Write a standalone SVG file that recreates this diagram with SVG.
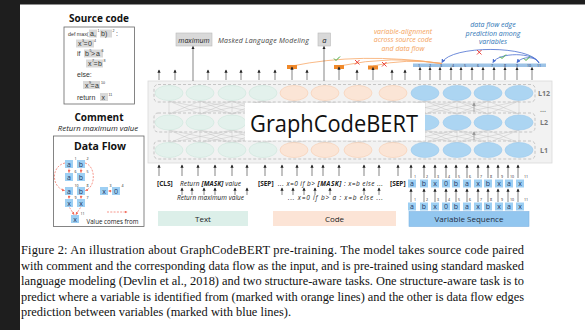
<svg xmlns="http://www.w3.org/2000/svg" width="585" height="330" viewBox="0 0 585 330">
<defs>
<style>
.s{font-family:"Open Sans","Noto Sans",sans-serif;}
.it{font-style:italic;}
.b{font-weight:bold;}
.cap{font-family:"Liberation Serif","Times New Roman",serif;font-size:12.4px;fill:#111;}
.hl{fill:#d9d9d9;}
.vb{fill:#9dcff3;}
.vt{font-family:"Open Sans",sans-serif;font-size:7px;fill:#1f3864;text-anchor:middle;}
.sup{font-family:"Open Sans",sans-serif;font-size:3.6px;fill:#222;}
.code{font-family:"Liberation Sans",Arial,sans-serif;font-size:7px;fill:#333;}
.cs{font-size:3.6px;}
.ar path{stroke:#333;stroke-width:0.6;fill:none;marker-end:url(#ah);}
.ga{stroke:#999;stroke-width:0.8;fill:none;marker-end:url(#gh);}
.rd{stroke:#f26b5b;stroke-width:0.7;fill:none;stroke-dasharray:2 1.3;marker-end:url(#rh);}
.row{fill:none;stroke:#b3b3b3;stroke-width:0.7;stroke-dasharray:3 2;}
.eg{fill:#e3f1ec;stroke:#cce5dc;stroke-width:0.6;}
.eo{fill:#fbe5d6;stroke:#f6cdb0;stroke-width:0.6;}
.eb{fill:#acd5f2;stroke:#9ccaec;stroke-width:0.6;}
.om{fill:#f0892a;}
</style>
<marker id="ah" viewBox="0 0 6 6" refX="5" refY="3" markerWidth="3.2" markerHeight="3.2" markerUnits="userSpaceOnUse" orient="auto"><path d="M0,0 L6,3 L0,6 z" fill="#222"/></marker>
<marker id="gh" viewBox="0 0 6 6" refX="5" refY="3" markerWidth="4" markerHeight="4" markerUnits="userSpaceOnUse" orient="auto"><path d="M0,0 L6,3 L0,6 z" fill="#999"/></marker>
<marker id="rh" viewBox="0 0 6 6" refX="5" refY="3" markerWidth="3" markerHeight="3" markerUnits="userSpaceOnUse" orient="auto"><path d="M0,0 L6,3 L0,6 z" fill="#f26b5b"/></marker>
<marker id="bh" viewBox="0 0 6 6" refX="5" refY="3" markerWidth="4" markerHeight="4" markerUnits="userSpaceOnUse" orient="auto"><path d="M0,0 L6,3 L0,6 z" fill="#4a6fd0"/></marker>
</defs>
<rect x="0" y="0" width="585" height="330" fill="#fff"/>
<rect x="0" y="0" width="20" height="330" fill="#1e1e1e"/>
<rect x="0" y="0" width="585" height="4.5" fill="#1e1e1e"/>

<!-- Source code -->
<g id="source-code">
<text x="99" y="22" class="s b" font-size="10" text-anchor="middle" fill="#111">Source code</text>
<rect x="64" y="27" width="70.5" height="77" fill="#fff" stroke="#666" stroke-width="0.8"/>
<rect class="hl" x="89" y="29.5" width="8" height="8"/>
<rect class="hl" x="100" y="29.5" width="12" height="8"/>
<rect class="hl" x="76" y="39.5" width="18" height="8"/>
<rect class="hl" x="84" y="49.5" width="19" height="8"/>
<rect class="hl" x="86" y="59.5" width="17" height="8"/>
<rect class="hl" x="83" y="81" width="17" height="8"/>
<rect class="hl" x="100" y="93" width="8" height="8"/>
<text class="code" y="36"><tspan x="68" font-size="5.3">def max(</tspan><tspan x="90">a,</tspan><tspan class="cs" x="97.5" dy="-4">1</tspan><tspan x="101" dy="4">b)</tspan><tspan class="cs" x="112.5" dy="-4">2</tspan><tspan x="116" dy="4">:</tspan></text>
<text class="code" y="46"><tspan x="78">x</tspan><tspan class="cs" x="82" dy="-4">3</tspan><tspan x="83.5" dy="4">=</tspan><tspan x="88">0</tspan><tspan class="cs" x="94" dy="-4">4</tspan></text>
<text class="code" y="56"><tspan x="77">if</tspan><tspan x="85">b</tspan><tspan class="cs" x="89.5" dy="-4">5</tspan><tspan x="91" dy="4">&gt;</tspan><tspan x="96">a</tspan><tspan class="cs" x="101.5" dy="-4">6</tspan></text>
<text class="code" y="66"><tspan x="88">x</tspan><tspan class="cs" x="92" dy="-4">7</tspan><tspan x="93.5" dy="4">=</tspan><tspan x="98">b</tspan><tspan class="cs" x="103.5" dy="-4">8</tspan></text>
<text class="code" x="77" y="77">else:</text>
<text class="code" y="87.5"><tspan x="85">x</tspan><tspan class="cs" x="89" dy="-4">9</tspan><tspan x="90.5" dy="4">=</tspan><tspan x="95">a</tspan><tspan class="cs" x="101" dy="-4">10</tspan></text>
<text class="code" y="99.5"><tspan x="77">return</tspan><tspan x="101.5">x</tspan><tspan class="cs" x="108.5" dy="-4">11</tspan></text>
</g>

<!-- Comment -->
<g id="comment">
<text x="99" y="120.5" class="s b" font-size="10" text-anchor="middle" fill="#111">Comment</text>
<text x="98" y="131" class="s it" font-size="7.8" text-anchor="middle" fill="#222">Return maximum value</text>
</g>

<!-- Data Flow -->
<g id="data-flow">
<rect x="53.5" y="136" width="90.5" height="90.5" fill="#fff" stroke="#666" stroke-width="0.8"/>
<text x="100" y="150" class="s b" font-size="10.5" text-anchor="middle" fill="#111">Data Flow</text>
<g>
<rect class="vb" x="65" y="160" width="8" height="8"/><text class="vt" x="69" y="166.5">a</text><text class="sup" x="74.5" y="160">1</text>
<rect class="vb" x="77" y="160" width="8" height="8"/><text class="vt" x="81" y="166.5">b</text><text class="sup" x="86.5" y="160">2</text>
<rect class="vb" x="65" y="173" width="8" height="8"/><text class="vt" x="69" y="179.5">a</text><text class="sup" x="74.5" y="173">6</text>
<rect class="vb" x="77" y="173" width="8" height="8"/><text class="vt" x="81" y="179.5">b</text><text class="sup" x="86.5" y="173">5</text>
<rect class="vb" x="65" y="187" width="8" height="8"/><text class="vt" x="69" y="193.5">a</text><text class="sup" x="74.5" y="187">10</text>
<rect class="vb" x="77" y="187" width="8" height="8"/><text class="vt" x="81" y="193.5">b</text><text class="sup" x="86.5" y="187">8</text>
<rect class="vb" x="65" y="199" width="8" height="8"/><text class="vt" x="69" y="205.5">x</text><text class="sup" x="74.5" y="199">9</text>
<rect class="vb" x="77" y="199" width="8" height="8"/><text class="vt" x="81" y="205.5">x</text><text class="sup" x="86.5" y="199">7</text>
<rect class="vb" x="71" y="215" width="8" height="8"/><text class="vt" x="75" y="221.5">x</text><text class="sup" x="80.5" y="215">11</text>
<rect class="vb" x="100" y="187" width="8" height="8"/><text class="vt" x="104" y="193.5">x</text><text class="sup" x="109.5" y="187">3</text>
<rect class="vb" x="112" y="187" width="8" height="8"/><text class="vt" x="116" y="193.5">0</text><text class="sup" x="121.5" y="187">4</text>
</g>
<g>
<path class="rd" d="M69 168.5 L69 172.5"/>
<path class="rd" d="M81 168.5 L81 172.5"/>
<path class="rd" d="M65 163 C51 166 51 187 64.5 190.5"/>
<path class="rd" d="M85 163 C96 166 96 187 85.5 190.5"/>
<path class="rd" d="M69 195.5 L69 198.5"/>
<path class="rd" d="M81 195.5 L81 198.5"/>
<path class="rd" d="M69.5 207.5 L74 214.5"/>
<path class="rd" d="M80.5 207.5 L76 214.5"/>
<path class="rd" d="M111.5 191 L108.5 191"/>
<path class="rd" d="M107 212 L127 212"/>
</g>
<text x="112.5" y="223.5" class="s" font-size="6.2" text-anchor="middle" fill="#222">Value comes from</text>
</g>

<!-- Model frame -->
<g id="graphcodebert">
<rect x="148" y="81" width="404" height="82" fill="#f2f2f2" stroke="#d9d9d9" stroke-width="0.8"/>
<rect class="row" x="154" y="84.5" width="381" height="17.5" rx="4"/>
<rect class="row" x="154" y="113" width="381" height="19" rx="4"/>
<rect class="row" x="154" y="141" width="381" height="18" rx="4"/>
<path stroke="#c4c4c4" stroke-width="0.5" fill="none" d="
M169 114 L169 101 M200 114 L200 101 M232 114 L232 101 M263 114 L263 101 M294 114 L294 101 M325 114 L325 101 M358 114 L358 101 M393 114 L393 101 M425 114 L425 101 M457 114 L457 101 M488 114 L488 101 M519 114 L519 101
M169 114 L200 101 M200 114 L169 101 M200 114 L232 101 M232 114 L200 101 M232 114 L263 101 M263 114 L232 101 M263 114 L294 101 M294 114 L263 101 M294 114 L325 101 M325 114 L294 101 M325 114 L358 101 M358 114 L325 101 M358 114 L393 101 M393 114 L358 101 M393 114 L425 101 M425 114 L393 101 M425 114 L457 101 M457 114 L425 101 M457 114 L488 101 M488 114 L457 101 M488 114 L519 101 M519 114 L488 101
M169 114 L232 101 M232 114 L169 101 M200 114 L263 101 M263 114 L200 101 M232 114 L294 101 M294 114 L232 101 M263 114 L325 101 M325 114 L263 101 M294 114 L358 101 M358 114 L294 101 M325 114 L393 101 M393 114 L325 101 M358 114 L425 101 M425 114 L358 101 M393 114 L457 101 M457 114 L393 101 M425 114 L488 101 M488 114 L425 101 M457 114 L519 101 M519 114 L457 101
M169 143 L169 130 M200 143 L200 130 M232 143 L232 130 M263 143 L263 130 M294 143 L294 130 M325 143 L325 130 M358 143 L358 130 M393 143 L393 130 M425 143 L425 130 M457 143 L457 130 M488 143 L488 130 M519 143 L519 130
M169 143 L200 130 M200 143 L169 130 M200 143 L232 130 M232 143 L200 130 M232 143 L263 130 M263 143 L232 130 M263 143 L294 130 M294 143 L263 130 M294 143 L325 130 M325 143 L294 130 M325 143 L358 130 M358 143 L325 130 M358 143 L393 130 M393 143 L358 130 M393 143 L425 130 M425 143 L393 130 M425 143 L457 130 M457 143 L425 130 M457 143 L488 130 M488 143 L457 130 M488 143 L519 130 M519 143 L488 130
M169 143 L232 130 M232 143 L169 130 M200 143 L263 130 M263 143 L200 130 M232 143 L294 130 M294 143 L232 130 M263 143 L325 130 M325 143 L263 130 M294 143 L358 130 M358 143 L294 130 M325 143 L393 130 M393 143 L325 130 M358 143 L425 130 M425 143 L358 130 M393 143 L457 130 M457 143 L393 130 M425 143 L488 130 M488 143 L425 130 M457 143 L519 130 M519 143 L457 130"/>
<g>
<ellipse class="eg" cx="169" cy="93" rx="14" ry="7.5"/><ellipse class="eg" cx="200" cy="93" rx="14" ry="7.5"/><ellipse class="eg" cx="232" cy="93" rx="14" ry="7.5"/><ellipse class="eg" cx="263" cy="93" rx="14" ry="7.5"/>
<ellipse class="eo" cx="294" cy="93" rx="14" ry="7.5"/><ellipse class="eo" cx="325" cy="93" rx="14" ry="7.5"/><ellipse class="eo" cx="358" cy="93" rx="14" ry="7.5"/><ellipse class="eo" cx="393" cy="93" rx="14" ry="7.5"/>
<ellipse class="eb" cx="425" cy="93" rx="14" ry="7.5"/><ellipse class="eb" cx="457" cy="93" rx="14" ry="7.5"/><ellipse class="eb" cx="488" cy="93" rx="14" ry="7.5"/><ellipse class="eb" cx="519" cy="93" rx="14" ry="7.5"/>
<ellipse class="eg" cx="169" cy="122.5" rx="14" ry="7.5"/><ellipse class="eg" cx="200" cy="122.5" rx="14" ry="7.5"/><ellipse class="eg" cx="232" cy="122.5" rx="14" ry="7.5"/><ellipse class="eg" cx="263" cy="122.5" rx="14" ry="7.5"/>
<ellipse class="eb" cx="425" cy="122.5" rx="14" ry="7.5"/><ellipse class="eb" cx="457" cy="122.5" rx="14" ry="7.5"/><ellipse class="eb" cx="488" cy="122.5" rx="14" ry="7.5"/><ellipse class="eb" cx="519" cy="122.5" rx="14" ry="7.5"/>
<ellipse class="eg" cx="169" cy="150" rx="14" ry="7.5"/><ellipse class="eg" cx="200" cy="150" rx="14" ry="7.5"/><ellipse class="eg" cx="232" cy="150" rx="14" ry="7.5"/><ellipse class="eg" cx="263" cy="150" rx="14" ry="7.5"/>
<ellipse class="eo" cx="294" cy="150" rx="14" ry="7.5"/><ellipse class="eo" cx="325" cy="150" rx="14" ry="7.5"/><ellipse class="eo" cx="358" cy="150" rx="14" ry="7.5"/><ellipse class="eo" cx="393" cy="150" rx="14" ry="7.5"/>
<ellipse class="eb" cx="425" cy="150" rx="14" ry="7.5"/><ellipse class="eb" cx="457" cy="150" rx="14" ry="7.5"/><ellipse class="eb" cx="488" cy="150" rx="14" ry="7.5"/><ellipse class="eb" cx="519" cy="150" rx="14" ry="7.5"/>
</g>
<path class="ga" d="M256 112 L256 103"/>
<path class="ga" d="M474 112 L474 103"/>
<path class="ga" d="M474 140 L474 132"/>
<rect x="245" y="103" width="180" height="37.5" fill="#fff"/>
<text x="334" y="132" class="s" font-size="24" text-anchor="middle" fill="#111" textLength="168" lengthAdjust="spacingAndGlyphs">GraphCodeBERT</text>
<g class="s b" font-size="7" fill="#777">
<text x="538" y="96">L12</text>
<text x="540" y="112">...</text>
<text x="540" y="125">L2</text>
<text x="540" y="153">L1</text>
</g>
</g>

<!-- Output: MLM -->
<g id="mlm">
<rect x="176" y="33" width="36" height="13" fill="#d9d9d9" stroke="#bbb" stroke-width="0.6"/>
<text x="194" y="42.5" class="s it" font-size="7" text-anchor="middle" fill="#222">maximum</text>
<text x="218" y="42.5" class="s it" font-size="7" fill="#444" textLength="91">Masked Language Modeling</text>
<rect x="318" y="33" width="12.5" height="13" fill="#d9d9d9" stroke="#bbb" stroke-width="0.6"/>
<text x="324.3" y="42.5" class="s it" font-size="7.5" text-anchor="middle" fill="#222">a</text>
</g>

<!-- Variable sequence output bar -->
<g id="var-output">
<rect x="413" y="63.5" width="133" height="3.5" fill="#9dc3e6"/>
<g class="s" font-size="3.6" fill="#1f3864" text-anchor="middle">
<text x="419" y="66.6">1</text><text x="430" y="66.6">2</text><text x="441" y="66.6">3</text><text x="453" y="66.6">4</text><text x="465" y="66.6">5</text><text x="478" y="66.6">6</text><text x="492" y="66.6">7</text><text x="505" y="66.6">8</text><text x="517" y="66.6">9</text><text x="529" y="66.6">10</text><text x="539" y="66.6">11</text>
</g>
</g>

<!-- Annotations -->
<g id="annotations">
<g class="s it" font-size="7" fill="#f4a25a" text-anchor="middle">
<text x="403" y="33.5">variable-alignment</text>
<text x="403" y="42">across source code</text>
<text x="403" y="50.5">and data flow</text>
</g>
<g class="s it" font-size="7" fill="#2e75b6" text-anchor="middle">
<text x="493" y="27">data flow edge</text>
<text x="493" y="35.5">prediction among</text>
<text x="493" y="44">variables</text>
</g>
</g>

<!-- Connectors -->
<g id="connectors">
<path d="M292 66 Q360 52 442 63.5" stroke="#f7a868" stroke-width="0.8" fill="none"/>
<path d="M339 66 Q392 55 442 63.5" stroke="#f7a868" stroke-width="0.8" fill="none"/>
<path d="M373 66 Q405 58 442 63.5" stroke="#f7a868" stroke-width="0.8" fill="none"/>
<path d="M539 63 C531 45 451 45 442 62.5" stroke="#4a6fd0" stroke-width="0.8" fill="none" marker-end="url(#bh)"/>
<path d="M539 63 C534 52 499 52 493 62.5" stroke="#4a6fd0" stroke-width="0.8" fill="none" marker-end="url(#bh)"/>
<path d="M539 63 C536 56 522 56 517 62.5" stroke="#4a6fd0" stroke-width="0.8" fill="none" marker-end="url(#bh)"/>
<g stroke="#e8302a" stroke-width="0.9">
<path d="M477 50 L481.5 54.5 M481.5 50 L477 54.5"/>
<path d="M355 60 L359.5 64.5 M359.5 60 L355 64.5"/>
<path d="M382 62 L386.5 66.5 M386.5 62 L382 66.5"/>
</g>
<g stroke="#3daa3d" stroke-width="1" fill="none">
<path d="M500 56.5 L502 58.5 L506 54.5"/>
<path d="M524 58.5 L526 60.5 L530 56.5"/>
<path d="M334 58.5 L336 60.5 L340 56.5"/>
</g>
<rect class="om" x="287" y="65" width="10" height="4"/>
<rect class="om" x="334" y="65" width="10" height="4"/>
<rect class="om" x="368" y="65.5" width="10" height="4"/>
<g class="ar">
<path d="M159 80 L159 70"/><path d="M175 80 L175 70"/><path d="M208 80 L208 70"/><path d="M226 80 L226 70"/><path d="M241 80 L241 70"/><path d="M259 80 L259 70"/><path d="M275 80 L275 70"/><path d="M292 80 L292 67"/><path d="M307 80 L307 70"/><path d="M339 80 L339 67"/><path d="M357 80 L357 70"/><path d="M373 80 L373 67.5"/><path d="M392 80 L392 70"/><path d="M405 80 L405 70"/>
<path d="M420 80 L420 67.5"/><path d="M430 80 L430 67.5"/><path d="M440 80 L440 67.5"/><path d="M451 80 L451 67.5"/><path d="M461 80 L461 67.5"/><path d="M472 80 L472 67.5"/><path d="M483 80 L483 67.5"/><path d="M494 80 L494 67.5"/><path d="M505 80 L505 67.5"/><path d="M517 80 L517 67.5"/><path d="M532 80 L532 67.5"/>
<path d="M193 81 L193 46.5"/><path d="M324 81 L324 46.5"/>
<path d="M159 176 L159 165"/><path d="M182 176 L182 165"/><path d="M198 176 L198 165"/><path d="M215 176 L215 165"/><path d="M232 176 L232 165"/><path d="M247 176 L247 165"/><path d="M265 176 L265 165"/><path d="M282 176 L282 165"/><path d="M297 176 L297 165"/><path d="M312 176 L312 165"/><path d="M323 176 L323 165"/><path d="M339 176 L339 165"/><path d="M364 176 L364 165"/><path d="M379 176 L379 165"/><path d="M398 176 L398 165"/>
<path d="M411 178 L411 165"/><path d="M424 178 L424 165"/><path d="M435 178 L435 165"/><path d="M446 178 L446 165"/><path d="M456 178 L456 165"/><path d="M467 178 L467 165"/><path d="M478 178 L478 165"/><path d="M488 178 L488 165"/><path d="M498 178 L498 165"/><path d="M508 178 L508 165"/><path d="M518 178 L518 165"/>
<path d="M182 195 L182 188"/><path d="M192 195 L192 188"/><path d="M204 195 L204 188"/><path d="M215 195 L215 188"/><path d="M235 195 L235 188"/><path d="M247 195 L247 188"/><path d="M282 195 L282 188"/><path d="M293 195 L293 188"/><path d="M304 195 L304 188"/><path d="M315 195 L315 188"/><path d="M330 195 L330 188"/><path d="M364 195 L364 188"/><path d="M379 195 L379 188"/>
<path d="M411 202 L411 189"/><path d="M424 202 L424 189"/><path d="M435 202 L435 189"/><path d="M446 202 L446 189"/><path d="M456 202 L456 189"/><path d="M467 202 L467 189"/><path d="M478 202 L478 189"/><path d="M488 202 L488 189"/><path d="M498 202 L498 189"/><path d="M508 202 L508 189"/><path d="M518 202 L518 189"/>
</g>
</g>

<!-- Input tokens -->
<g id="text-input">
<text x="157" y="186" class="s b" font-size="6.5" fill="#222">[CLS]</text>
<text x="180" y="186" class="s it" font-size="6.5" fill="#222" textLength="61">Return <tspan class="b">[MASK]</tspan> value</text>
<text x="210.5" y="200" class="s it" font-size="6.5" fill="#222" text-anchor="middle">Return maximum value</text>
<rect x="158" y="211" width="90" height="15" fill="#dcefe9"/>
<text x="203" y="221.5" class="s" font-size="8" fill="#222" text-anchor="middle">Text</text>
</g>
<g id="code-input">
<text x="258" y="186" class="s b" font-size="6.5" fill="#222">[SEP]</text>
<text x="278" y="186" class="s it" font-size="6.5" fill="#222" textLength="105">... x=0 if b&gt; <tspan class="b">[MASK]</tspan> : x=b else ...</text>
<text x="288" y="200" class="s it" font-size="6.5" fill="#222" textLength="95">... x=0 if b&gt;  a  : x=b else ...</text>
<rect x="273" y="211" width="123" height="15" fill="#fce4d6"/>
<text x="334.5" y="221.5" class="s" font-size="8" fill="#222" text-anchor="middle">Code</text>
</g>
<g id="variable-input">
<text x="390" y="186" class="s b" font-size="6.5" fill="#222">[SEP]</text>
<g>
<rect class="vb" x="408" y="179.5" width="8" height="8"/><rect class="vb" x="420" y="179.5" width="8" height="8"/><rect class="vb" x="431" y="179.5" width="8" height="8"/><rect class="vb" x="442" y="179.5" width="8" height="8"/><rect class="vb" x="452" y="179.5" width="8" height="8"/><rect class="vb" x="463" y="179.5" width="8" height="8"/><rect class="vb" x="474" y="179.5" width="8" height="8"/><rect class="vb" x="484" y="179.5" width="8" height="8"/><rect class="vb" x="495" y="179.5" width="8" height="8"/><rect class="vb" x="505" y="179.5" width="8" height="8"/><rect class="vb" x="516" y="179.5" width="8" height="8"/>
<text class="vt" x="412" y="186">a</text><text class="vt" x="424" y="186">b</text><text class="vt" x="435" y="186">x</text><text class="vt" x="446" y="186">0</text><text class="vt" x="456" y="186">b</text><text class="vt" x="467" y="186">a</text><text class="vt" x="478" y="186">x</text><text class="vt" x="488" y="186">b</text><text class="vt" x="499" y="186">x</text><text class="vt" x="509" y="186">a</text><text class="vt" x="520" y="186">x</text>
<g class="sup"><text x="414" y="178">1</text><text x="426" y="178">2</text><text x="437" y="178">3</text><text x="448" y="178">4</text><text x="458" y="178">5</text><text x="469" y="178">6</text><text x="480" y="178">7</text><text x="490" y="178">8</text><text x="501" y="178">9</text><text x="510" y="178">10</text><text x="524" y="178">11</text></g>
<rect class="vb" x="408" y="202.5" width="8" height="8"/><rect class="vb" x="420" y="202.5" width="8" height="8"/><rect class="vb" x="431" y="202.5" width="8" height="8"/><rect class="vb" x="442" y="202.5" width="8" height="8"/><rect class="vb" x="452" y="202.5" width="8" height="8"/><rect class="vb" x="463" y="202.5" width="8" height="8"/><rect class="vb" x="474" y="202.5" width="8" height="8"/><rect class="vb" x="484" y="202.5" width="8" height="8"/><rect class="vb" x="495" y="202.5" width="8" height="8"/><rect class="vb" x="505" y="202.5" width="8" height="8"/><rect class="vb" x="516" y="202.5" width="8" height="8"/>
<text class="vt" x="412" y="209">a</text><text class="vt" x="424" y="209">b</text><text class="vt" x="435" y="209">x</text><text class="vt" x="446" y="209">0</text><text class="vt" x="456" y="209">b</text><text class="vt" x="467" y="209">a</text><text class="vt" x="478" y="209">x</text><text class="vt" x="488" y="209">b</text><text class="vt" x="499" y="209">x</text><text class="vt" x="509" y="209">a</text><text class="vt" x="520" y="209">x</text>
<g class="sup"><text x="414" y="201">1</text><text x="426" y="201">2</text><text x="437" y="201">3</text><text x="448" y="201">4</text><text x="458" y="201">5</text><text x="469" y="201">6</text><text x="480" y="201">7</text><text x="490" y="201">8</text><text x="501" y="201">9</text><text x="510" y="201">10</text><text x="524" y="201">11</text></g>
</g>
<rect x="409" y="211.5" width="120" height="15" fill="#92c6ef" stroke="#7fb5e3" stroke-width="0.6"/>
<text x="469" y="222" class="s" font-size="8" fill="#1f2d3d" text-anchor="middle">Variable Sequence</text>
</g>

<!-- Caption -->
<g id="caption">
<text class="cap" x="21" y="254" textLength="503" lengthAdjust="spacing">Figure 2: An illustration about GraphCodeBERT pre-training. The model takes source code paired</text>
<text class="cap" x="21" y="269.5" textLength="503" lengthAdjust="spacing">with comment and the corresponding data flow as the input, and is pre-trained using standard masked</text>
<text class="cap" x="21" y="285" textLength="503" lengthAdjust="spacing">language modeling (Devlin et al., 2018) and two structure-aware tasks. One structure-aware task is to</text>
<text class="cap" x="21" y="300.5" textLength="503" lengthAdjust="spacing">predict where a variable is identified from (marked with orange lines) and the other is data flow edges</text>
<text class="cap" x="21" y="316">prediction between variables (marked with blue lines).</text>
</g>
</svg>
